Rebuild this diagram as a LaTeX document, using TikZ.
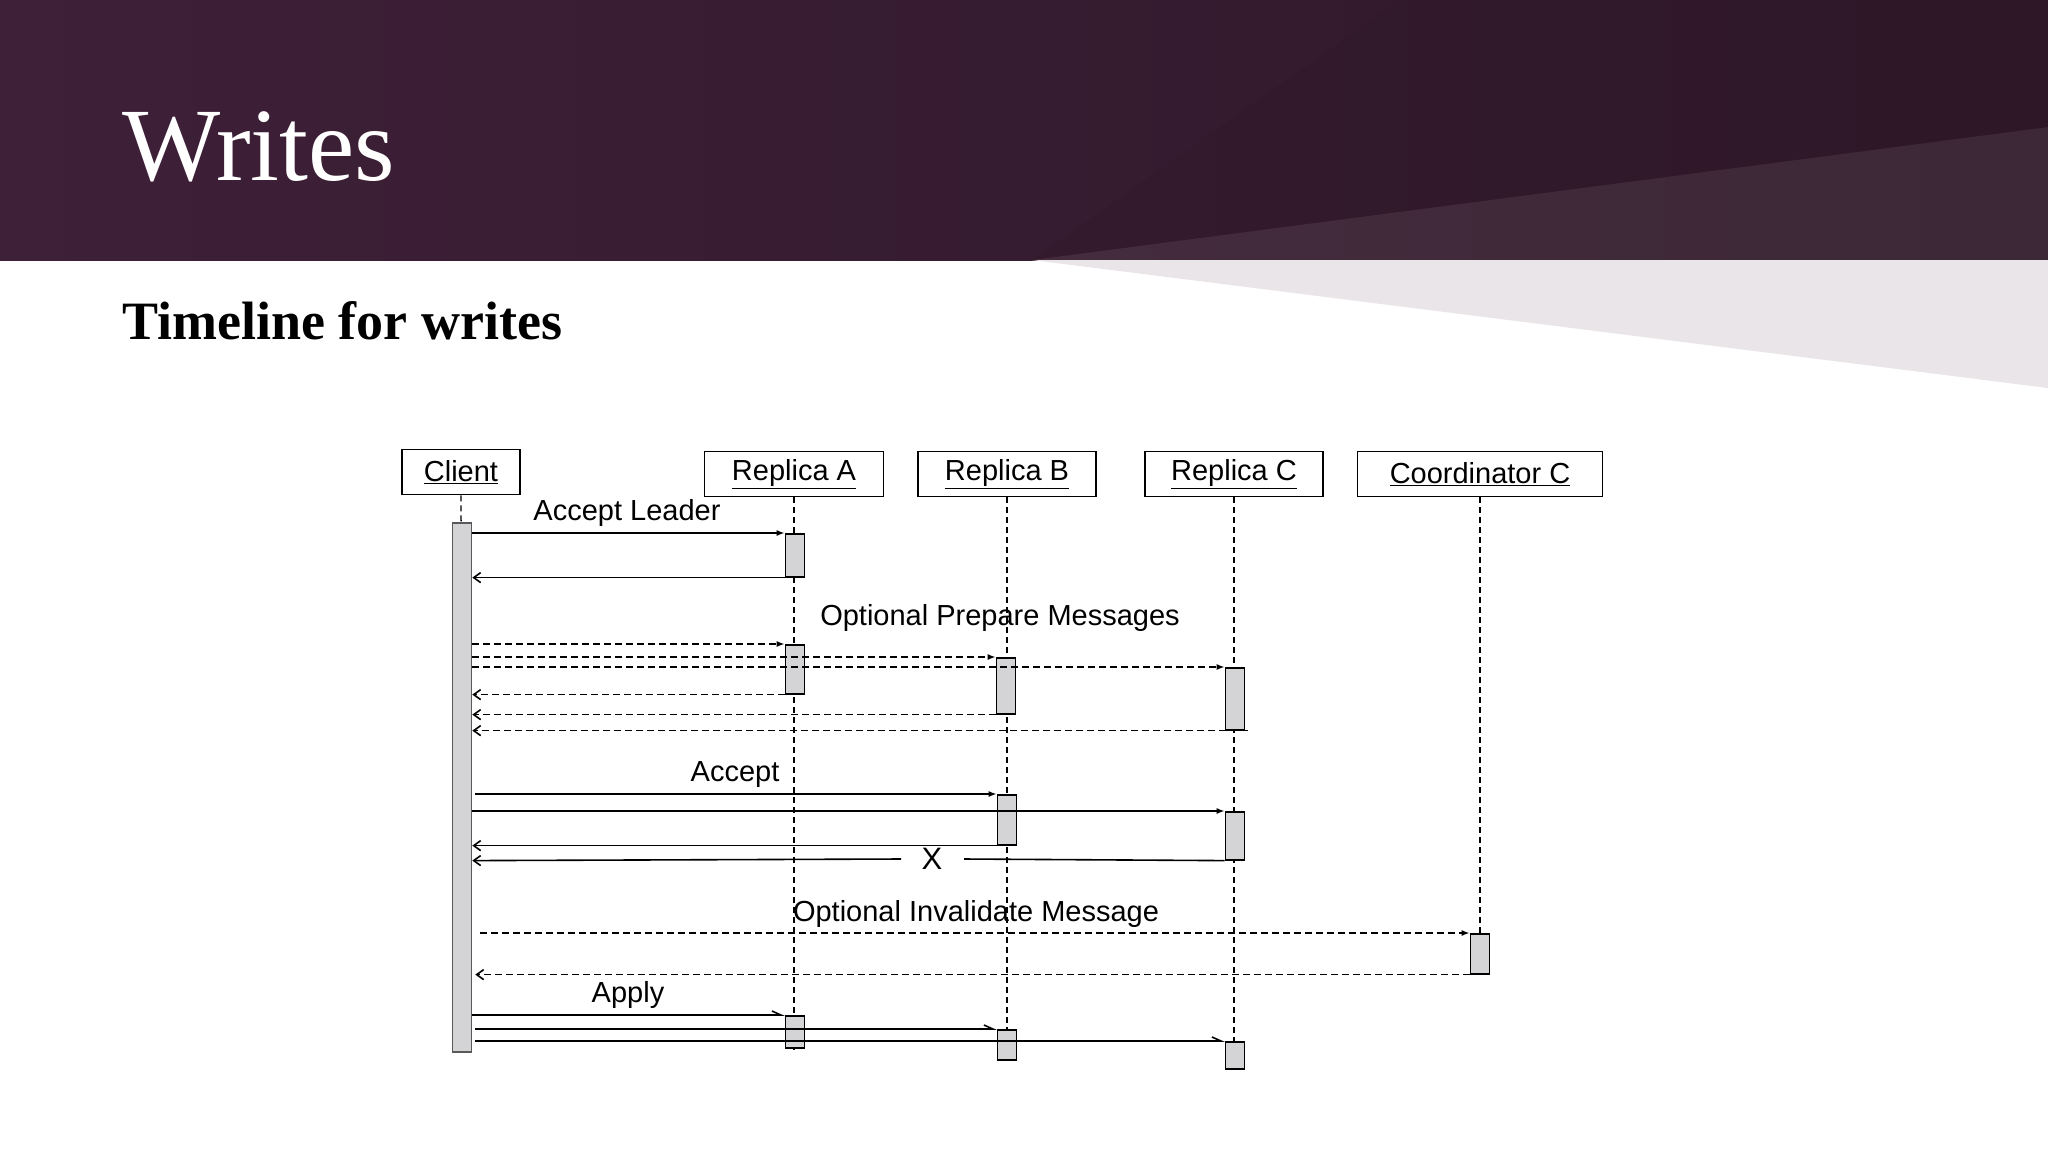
\documentclass[tikz,border=0pt]{standalone}
\usepackage{fontspec}
\setmainfont{Liberation Serif}
\newfontfamily\arial{Liberation Sans}
\usetikzlibrary{arrows.meta}
\definecolor{hdA}{HTML}{3E2038}
\definecolor{hdB}{HTML}{522A4A}
\definecolor{hdC}{HTML}{2E1828}
\definecolor{barG}{HTML}{D4D4D6}
\begin{document}
\begin{tikzpicture}[x=1pt,y=-1pt,
  lbox/.style={draw,line width=1.6pt,font=\arial\fontsize{29}{30}\selectfont,inner sep=0pt,minimum height=45pt},
  abar/.style={draw,line width=1.6pt,fill=barG,anchor=north,minimum width=19pt,inner sep=0pt},
  life/.style={line width=1.4pt,dash pattern=on 6pt off 4pt},
  msg/.style={line width=1.6pt},
  dmsg/.style={line width=1.6pt,dash pattern=on 7pt off 4pt},
  fwd/.style={-{Latex[length=8pt,width=6pt]}},
  ret/.style={-{Straight Barb[length=7pt,width=10pt]}},
  app/.style={-{Straight Barb[left,length=9pt,width=8pt]}},
  lab/.style={font=\arial\fontsize{29}{30}\selectfont,inner sep=1pt}]
\useasboundingbox (0,0) rectangle (2048,1152);
\fill[white] (0,0) rectangle (2048,1152);
\shade[left color=hdA,middle color=hdB,right color=hdC,shading angle=90] (0,0) rectangle (2048,260);
\fill[white,opacity=0.07] (1032,260) -- (2048,127) -- (2048,260) -- cycle;
\fill[hdC,opacity=0.25] (1032,260) -- (2048,127) -- (2048,0) -- (1400,0) -- cycle;
\fill[hdB!12] (1032,260) -- (2048,260) -- (2048,388) -- cycle;
\node[anchor=base west,text=white,font=\fontsize{104}{110}\selectfont,inner sep=0] (title) at (122,180) {Writes};
\node[anchor=base west,font=\bfseries\fontsize{54}{60}\selectfont,inner sep=0] (sub) at (122,339) {Timeline for writes};
% lifeline heads
\node[lbox,minimum width=118pt] (cl) at (461,472) {\underline{Client}};
\node[lbox,minimum width=179pt] (ra) at (794,474) {\underline{Replica A}};
\node[lbox,minimum width=178pt] (rb) at (1007,474) {\underline{Replica B}};
\node[lbox,minimum width=178pt] (rc) at (1234,474) {\underline{Replica C}};
\node[lbox,minimum width=245pt] (co) at (1480,474) {\underline{Coordinator C}};
\coordinate (clE) at (462,1053);
\coordinate (raE) at (794,1050);
\coordinate (rbE) at (1007,1060);
\coordinate (rcE) at (1234,1070);
\coordinate (coE) at (1480,935);
\draw[life] (cl.south) -- (clE);
\draw[life] (ra.south) -- (raE);
\draw[life] (rb.south) -- (rbE);
\draw[life] (rc.south) -- (rcE);
\draw[life] (co.south) -- (coE);
% bars
\node[abar,minimum height=529pt,draw=gray!70!black] (cb) at (462,522) {};
\node[abar,minimum height=43pt] (a1) at (795,533) {};
\node[abar,minimum height=49pt] (a2) at (795,644) {};
\node[abar,minimum height=56pt] (b2) at (1006,657) {};
\node[abar,minimum height=62pt] (c2) at (1235,667) {};
\node[abar,minimum height=50pt] (b3) at (1007,794) {};
\node[abar,minimum height=48pt] (c3) at (1235,811) {};
\node[abar,minimum height=40pt] (o4) at (1480,933) {};
\node[abar,minimum height=32pt] (a5) at (795,1015) {};
\node[abar,minimum height=30pt] (b5) at (1007,1029) {};
\node[abar,minimum height=27pt] (c5) at (1235,1041) {};
% Accept Leader
\node[lab] (l1) at (627,513) {Accept Leader};
\draw[msg,fwd] (cb.east |- a1.north) -- (a1.north west);
\draw[msg,ret] (a1.south west) -- (cb.east |- a1.south);
% Optional prepare
\node[lab] (l2) at (1000,618) {Optional Prepare Messages};
\draw[dmsg,fwd] (cb.east |- a2.north) -- (a2.north west);
\draw[dmsg,fwd] (cb.east |- b2.north) -- (b2.north west);
\draw[dmsg,fwd] (cb.east |- c2.north) -- (c2.north west);
\draw[dmsg,ret] (a2.south west) -- (cb.east |- a2.south);
\draw[dmsg,ret] (b2.south west) -- (cb.east |- b2.south);
\draw[dmsg,ret] ([xshift=3pt]c2.south east) -- (cb.east |- c2.south);
% Accept
\node[lab] (l3) at (735,775) {Accept};
\draw[msg,fwd] ([xshift=3pt]cb.east |- b3.north) -- (b3.north west);
\draw[msg,fwd] (cb.east |- c3.north) -- (c3.north west);
\draw[msg,ret] (b3.south west) -- (cb.east |- b3.south);
\node[lab,font=\arial\fontsize{31}{32}\selectfont] (x) at (932,859) {X};
\draw[msg] (c3.south west) -- (964,859);
\draw[msg,ret] (901,859) -- (cb.east |- c3.south);
% Invalidate
\node[lab] (l4) at (976,914) {Optional Invalidate Message};
\draw[dmsg,fwd] ([xshift=8pt]cb.east |- o4.north) -- (o4.north west);
\draw[dmsg,ret] (o4.south west) -- ([xshift=3pt]cb.east |- o4.south);
% Apply
\node[lab] (l5) at (628,995) {Apply};
\draw[msg,app] (cb.east |- a5.north) -- (a5.north west);
\draw[msg,app] ([xshift=3pt]cb.east |- b5.north) -- (b5.north west);
\draw[msg,app] ([xshift=3pt]cb.east |- c5.north) -- (c5.north west);
\end{tikzpicture}
\end{document}
